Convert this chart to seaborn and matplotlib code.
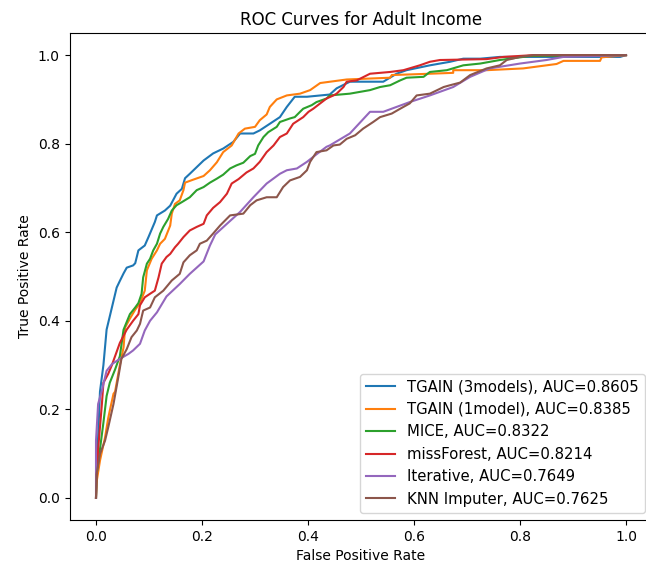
import matplotlib
matplotlib.use("Agg")
import matplotlib.pyplot as plt
import seaborn as sns
import pandas as pd

labels = [
    "TGAIN (3models), AUC=0.8605",
    "TGAIN (1model), AUC=0.8385",
    "MICE, AUC=0.8322",
    "missForest, AUC=0.8214",
    "Iterative, AUC=0.7649",
    "KNN Imputer, AUC=0.7625",
]

fpr_tgain3 = [0.0, 0.002, 0.0075, 0.014, 0.020, 0.030, 0.039, 0.045, 0.052, 0.058, 0.070, 0.074, 0.080,
              0.092, 0.099, 0.111, 0.115, 0.130, 0.140, 0.152, 0.162, 0.168, 0.177, 0.190, 0.203, 0.221,
              0.240, 0.259, 0.272, 0.297, 0.309, 0.328, 0.347, 0.360, 0.375, 0.398, 0.441, 0.454, 0.479,
              0.542, 0.567, 0.586, 0.630, 0.668, 0.693, 0.725, 0.762, 0.989, 1.0]
tpr_tgain3 = [0.0, 0.08, 0.24, 0.30, 0.38, 0.43, 0.475, 0.49, 0.507, 0.52, 0.525, 0.53, 0.559,
              0.570, 0.589, 0.623, 0.638, 0.649, 0.660, 0.687, 0.698, 0.722, 0.732, 0.747, 0.762, 0.778,
              0.789, 0.804, 0.823, 0.823, 0.830, 0.845, 0.860, 0.883, 0.906, 0.906, 0.911, 0.925, 0.940,
              0.940, 0.958, 0.966, 0.977, 0.985, 0.992, 0.992, 0.996, 0.996, 1.0]

fpr_tgain1 = [0.0, 0.001, 0.0075, 0.014, 0.017, 0.023, 0.026, 0.033, 0.036, 0.045, 0.052, 0.055, 0.064,
              0.074, 0.083, 0.092, 0.096, 0.105, 0.115, 0.121, 0.130, 0.140, 0.143, 0.149, 0.158, 0.165,
              0.168, 0.184, 0.203, 0.215, 0.228, 0.240, 0.256, 0.269, 0.281, 0.300, 0.309, 0.322, 0.328,
              0.341, 0.360, 0.385, 0.404, 0.423, 0.473, 0.555, 0.558, 0.630, 0.674, 0.674, 0.737, 0.806,
              0.869, 0.882, 0.951, 0.954, 1.0]
tpr_tgain1 = [0.0, 0.035, 0.084, 0.12, 0.136, 0.18, 0.197, 0.235, 0.24, 0.30, 0.34, 0.385, 0.405,
              0.425, 0.44, 0.468, 0.514, 0.54, 0.559, 0.574, 0.585, 0.615, 0.642, 0.664, 0.672, 0.695,
              0.712, 0.719, 0.727, 0.74, 0.758, 0.781, 0.796, 0.823, 0.834, 0.838, 0.853, 0.866, 0.883,
              0.900, 0.909, 0.913, 0.921, 0.937, 0.945, 0.949, 0.955, 0.958, 0.960, 0.966, 0.966, 0.970,
              0.980, 0.987, 0.987, 0.995, 1.0]

fpr_mice = [0.0, 0.001, 0.0075, 0.014, 0.020, 0.026, 0.036, 0.045, 0.052, 0.064, 0.074, 0.080, 0.086,
            0.089, 0.096, 0.102, 0.108, 0.115, 0.121, 0.127, 0.136, 0.143, 0.152, 0.162, 0.177, 0.190,
            0.203, 0.215, 0.228, 0.240, 0.253, 0.265, 0.278, 0.291, 0.300, 0.306, 0.316, 0.325, 0.341,
            0.347, 0.366, 0.375, 0.385, 0.391, 0.407, 0.416, 0.435, 0.441, 0.479, 0.517, 0.536, 0.555,
            0.574, 0.586, 0.618, 0.630, 0.662, 0.693, 0.725, 0.762, 0.800, 0.819, 1.0]
tpr_mice = [0.0, 0.05, 0.11, 0.17, 0.23, 0.26, 0.29, 0.32, 0.38, 0.415, 0.43, 0.44, 0.461,
            0.498, 0.529, 0.54, 0.559, 0.574, 0.597, 0.612, 0.63, 0.649, 0.661, 0.668, 0.679, 0.695,
            0.702, 0.712, 0.721, 0.73, 0.744, 0.751, 0.757, 0.772, 0.777, 0.796, 0.815, 0.826, 0.838,
            0.849, 0.857, 0.86, 0.872, 0.879, 0.887, 0.894, 0.902, 0.909, 0.913, 0.921, 0.928, 0.932,
            0.943, 0.949, 0.951, 0.962, 0.966, 0.977, 0.981, 0.989, 0.995, 0.998, 1.0]

fpr_missforest = [0.0, 0.001, 0.004, 0.011, 0.014, 0.023, 0.030, 0.039, 0.045, 0.058, 0.070, 0.080,
                  0.083, 0.092, 0.102, 0.111, 0.118, 0.124, 0.133, 0.140, 0.149, 0.155, 0.165, 0.177,
                  0.190, 0.203, 0.209, 0.221, 0.234, 0.247, 0.256, 0.269, 0.284, 0.297, 0.309, 0.322,
                  0.335, 0.347, 0.360, 0.372, 0.391, 0.401, 0.410, 0.423, 0.435, 0.448, 0.454, 0.467,
                  0.473, 0.492, 0.517, 0.555, 0.580, 0.611, 0.630, 0.649, 0.737, 0.769, 0.825, 1.0]
tpr_missforest = [0.0, 0.05, 0.11, 0.21, 0.26, 0.28, 0.30, 0.33, 0.35, 0.38, 0.40, 0.415,
                  0.435, 0.453, 0.461, 0.468, 0.498, 0.529, 0.544, 0.551, 0.566, 0.574, 0.589, 0.604,
                  0.612, 0.619, 0.638, 0.655, 0.668, 0.687, 0.71, 0.72, 0.735, 0.744, 0.759, 0.781,
                  0.796, 0.815, 0.823, 0.845, 0.86, 0.872, 0.879, 0.891, 0.902, 0.909, 0.913, 0.928,
                  0.94, 0.943, 0.958, 0.962, 0.966, 0.977, 0.985, 0.989, 0.991, 0.996, 1.0, 1.0]

fpr_iterative = [0.0, 0.0, 0.004, 0.011, 0.020, 0.030, 0.045, 0.061, 0.070, 0.083, 0.092, 0.102, 0.115,
                 0.133, 0.158, 0.177, 0.203, 0.215, 0.225, 0.247, 0.272, 0.297, 0.322, 0.347, 0.360,
                 0.379, 0.398, 0.416, 0.435, 0.441, 0.479, 0.517, 0.542, 0.592, 0.630, 0.674, 0.706,
                 0.743, 0.800, 0.850, 0.882, 1.0]
tpr_iterative = [0.0, 0.129, 0.212, 0.242, 0.287, 0.302, 0.314, 0.325, 0.333, 0.348, 0.378, 0.40, 0.419,
                 0.455, 0.483, 0.506, 0.534, 0.57, 0.595, 0.619, 0.646, 0.679, 0.71, 0.732, 0.74,
                 0.744, 0.759, 0.776, 0.793, 0.796, 0.823, 0.872, 0.872, 0.894, 0.909, 0.928, 0.951,
                 0.97, 0.981, 0.989, 0.996, 1.0]

fpr_knn = [0.0, 0.001, 0.0075, 0.017, 0.023, 0.033, 0.042, 0.048, 0.058, 0.067, 0.077, 0.083, 0.089,
           0.102, 0.111, 0.127, 0.143, 0.158, 0.165, 0.177, 0.190, 0.196, 0.209, 0.221, 0.234, 0.253,
           0.278, 0.291, 0.303, 0.322, 0.341, 0.353, 0.366, 0.385, 0.398, 0.404, 0.416, 0.435, 0.448,
           0.460, 0.473, 0.489, 0.504, 0.523, 0.536, 0.558, 0.574, 0.592, 0.605, 0.630, 0.656, 0.668,
           0.687, 0.706, 0.737, 0.762, 0.775, 0.800, 0.825, 1.0]
tpr_knn = [0.0, 0.053, 0.099, 0.129, 0.159, 0.212, 0.272, 0.314, 0.336, 0.363, 0.378, 0.393, 0.423,
           0.43, 0.453, 0.468, 0.491, 0.506, 0.532, 0.548, 0.559, 0.574, 0.581, 0.597, 0.615, 0.638,
           0.642, 0.661, 0.672, 0.679, 0.679, 0.702, 0.717, 0.725, 0.74, 0.759, 0.781, 0.785, 0.796,
           0.798, 0.811, 0.819, 0.834, 0.849, 0.86, 0.868, 0.879, 0.891, 0.909, 0.913, 0.928, 0.932,
           0.938, 0.955, 0.97, 0.977, 0.989, 0.996, 1.0, 1.0]

series = [
    (fpr_tgain3, tpr_tgain3),
    (fpr_tgain1, tpr_tgain1),
    (fpr_mice, tpr_mice),
    (fpr_missforest, tpr_missforest),
    (fpr_iterative, tpr_iterative),
    (fpr_knn, tpr_knn),
]

colors = sns.color_palette("tab10", 6)

fig = plt.figure(figsize=(6.46, 5.69), dpi=100)
ax = fig.add_axes([69.5 / 646, 49.0 / 569, 583.0 / 646, 487.0 / 569])
for (fx, ty), lab, col in zip(series, labels, colors):
    df = pd.DataFrame({"fpr": fx, "tpr": ty})
    sns.lineplot(data=df, x="fpr", y="tpr", sort=False, estimator=None,
                 color=col, label=lab, linewidth=1.5, ax=ax)

ax.set_title("ROC Curves for Adult Income")
ax.set_xlabel("False Positive Rate")
ax.set_ylabel("True Positive Rate")
ax.set_xticks([0.0, 0.2, 0.4, 0.6, 0.8, 1.0])
ax.set_yticks([0.0, 0.2, 0.4, 0.6, 0.8, 1.0])
ax.set_xlim(-0.05, 1.05)
ax.set_ylim(-0.05, 1.05)
ax.legend(loc="lower right", fontsize=10.7)
fig.savefig("out.png", dpi=100)
